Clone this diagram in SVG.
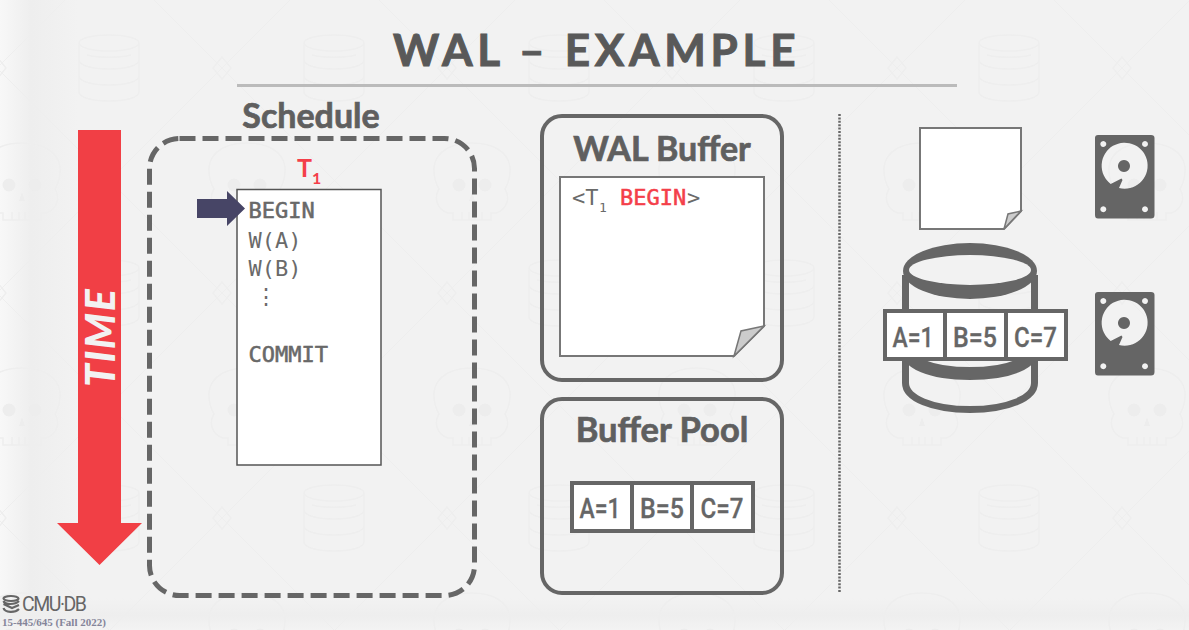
<svg xmlns="http://www.w3.org/2000/svg" width="1189" height="630" viewBox="0 0 1189 630">
<style>
.lato{font-family:"Lato","Liberation Sans",sans-serif;font-weight:700;fill:#5f5f5f;stroke:#5f5f5f;stroke-width:.7}
.mono{font-family:"DejaVu Sans Mono","Liberation Mono",monospace;font-size:22px;fill:#6a6a6a}
.b{stroke:#666;stroke-width:.55}
.red{fill:#f43f4a}
.b.red{stroke:#f43f4a}
.page{fill:#fff;stroke:#777;stroke-width:2}
.fold{fill:#ccc;stroke:#777;stroke-width:1.5}
.cell{fill:#fff;stroke:#666;stroke-width:4}
.cellt{font-family:Roboto,"DejaVu Sans",sans-serif;font-size:27px;font-weight:500;fill:#666;stroke:#666;stroke-width:.3;text-anchor:middle}
.panel{fill:none;stroke:#666;stroke-width:4}
.wm{fill:none;stroke:#eeeeee;stroke-width:1.500}
</style>
<defs>
<linearGradient id="leftg" x1="0" x2="1" y1="0" y2="0"><stop offset="0" stop-color="#f8f8f8"/><stop offset=".4" stop-color="#eeeeee"/><stop offset="1" stop-color="#f2f2f2"/></linearGradient>
<linearGradient id="botg" x1="0" x2="0" y1="0" y2="1"><stop offset="0" stop-color="#f2f2f2"/><stop offset=".55" stop-color="#eeeeee"/><stop offset="1" stop-color="#f3f3f3"/></linearGradient>
<g id="wdb" class="wm"><ellipse cx="0" cy="-25" rx="30" ry="8"/><path d="M-30-25V24C-30 36 30 36 30 24V-25M-30-8C-30 4 30 4 30-8M-30 8C-30 20 30 20 30 8M-22-13C-10-10 10-10 22-13"/></g>
<g id="wsk" class="wm"><path d="M-19 39V32H-24C-36 28-38 16-33 8C-39-2-38-12-38-14C-36-30-20-38 0-38S36-30 38-14C38-12 39-2 33 8C38 16 36 28 24 32H19V39ZM-10 31V39M-3 31V39M3 31V39M10 31V39"/><circle cx="-13" cy="4" r="6.500" fill="#ededed" stroke="none"/><circle cx="13" cy="4" r="6.500" fill="#ededed" stroke="none"/><path d="M0 11L-3 20H3Z" fill="#ededed" stroke="none"/></g>
<g id="dmd" class="wm"><polygon points="-9,0 0,-11 9,0 0,11"/></g>
<pattern id="wmark" width="225" height="225" patternUnits="userSpaceOnUse">
<g class="wm" style="stroke-width:1"><path d="M154 0L225 71M0 71L154 225M0 65L65 0M65 225L225 65"/></g>
<use href="#wdb" x="109" y="68"/>
<use href="#wsk" x="22" y="181"/><use href="#wsk" x="247" y="181"/><use href="#wsk" x="22" y="-44"/><use href="#wsk" x="247" y="-44"/>
<use href="#dmd" x="222" y="68"/><use href="#dmd" x="-3" y="68"/>
</pattern>
<path id="hdd" fill="#656565" fill-rule="evenodd" d="M1098 135H1151Q1154.500 135 1154.500 138V215Q1154.500 218.500 1151 218.500H1098Q1095 218.500 1095 215V138Q1095 135 1098 135ZM1103.300 141a3 3 0 1 0 .01 0ZM1145 141a3 3 0 1 0 .01 0ZM1103.300 206.300a3 3 0 1 0 .01 0ZM1145 206.300a3 3 0 1 0 .01 0ZM1119 188A23 23 0 1 0 1110.700 184L1121.500 178.500L1122.500 180ZM1124 160a6 6 0 1 1 -.01 0Z"/>
</defs>
<rect width="1189" height="630" fill="#f2f2f2"/>
<rect width="78" height="630" fill="url(#leftg)"/>
<rect y="598" width="1189" height="32" fill="url(#botg)"/>
<rect width="1189" height="630" fill="url(#wmark)"/>
<g id="title">
<text x="393" y="66" class="lato" font-size="44" letter-spacing="4.750" style="fill:#595959;stroke:#595959;stroke-width:1">WAL – EXAMPLE</text>
<rect x="237" y="84" width="720" height="3" fill="#bbb"/>
</g>
<g id="time-arrow">
<polygon points="78,130 121,130 121,523 142,523 99.500,565 57,523 78,523" fill="#f13f45"/>
<text transform="translate(115,387) rotate(-90)" font-family="Lato,'Liberation Sans',sans-serif" font-size="41" font-weight="900" font-style="italic" fill="#f2f2f2" letter-spacing="1.500">TIME</text>
</g>
<g id="schedule">
<text x="311" y="128" class="lato" font-size="34" text-anchor="middle">Schedule</text>
<rect x="149.500" y="138.500" width="325" height="457" rx="30" fill="none" stroke="#666" stroke-width="5" stroke-dasharray="16 7"/>
<text x="297" y="177" font-family="Lato,'Liberation Sans',sans-serif" font-weight="700" font-size="25" class="red">T</text>
<text x="312" y="184" font-family="Lato,'Liberation Sans',sans-serif" font-weight="700" font-size="16" class="red">1</text>
<rect x="237" y="189.500" width="144" height="275.500" fill="#fff" stroke="#555" stroke-width="1.500"/>
<text x="248.500" y="218" class="mono b">BEGIN</text>
<text x="248.500" y="248" class="mono">W(A)</text>
<text x="248.500" y="276" class="mono">W(B)</text>
<text x="255" y="304" class="mono">⋮</text>
<text x="248.500" y="362" class="mono b">COMMIT</text>
</g>
<g id="pointer"><polygon points="197,199 227,199 227,191 245,208.500 227,226 227,218 197,218" fill="#474566"/></g>
<g id="wal-buffer">
<rect x="542" y="116" width="240" height="264" rx="20" class="panel"/>
<text x="662" y="161" class="lato" font-size="34" text-anchor="middle">WAL Buffer</text>
<polygon points="560,177 764,177 764,326 734,356 560,356" class="page"/>
<polygon points="764,326 741,331 734,356" class="fold"/>
<text x="572" y="205" class="mono">&lt;T</text>
<text x="599" y="212" class="mono" style="font-size:13px">1</text>
<text x="620" y="205" class="mono b red">BEGIN</text>
<text x="687" y="205" class="mono">&gt;</text>
</g>
<g id="buffer-pool">
<rect x="542" y="399" width="240" height="194" rx="20" class="panel"/>
<text x="662" y="442" class="lato" font-size="34.500" text-anchor="middle">Buffer Pool</text>
<rect x="572" y="483" width="60" height="48" class="cell"/><rect x="632" y="483" width="60" height="48" class="cell"/><rect x="692" y="483" width="61" height="48" class="cell"/>
<text x="600" y="518" class="cellt" textLength="41" lengthAdjust="spacingAndGlyphs">A=1</text><text x="662" y="518" class="cellt" textLength="44" lengthAdjust="spacingAndGlyphs">B=5</text><text x="722" y="518" class="cellt" textLength="43" lengthAdjust="spacingAndGlyphs">C=7</text>
</g>
<g id="disk-log">
<polygon points="920,128 1021,128 1021,211 1004,229 920,229" class="page"/>
<polygon points="1021,211 1008,214 1004,229" class="fold"/>
<use href="#hdd"/>
</g>
<g id="disk-db">
<path d="M905.500 275V383C905.500 398 932 409.500 970 409.500S1034.500 398 1034.500 383V275" fill="none" stroke="#666" stroke-width="7"/>
<path d="M905.500 345C905.500 364 932 373.500 970 373.500S1034.500 364 1034.500 345" fill="none" stroke="#666" stroke-width="13"/>
<ellipse cx="970" cy="271" rx="67" ry="28" fill="#666"/>
<ellipse cx="970" cy="270" rx="61" ry="15" fill="#f2f2f2"/>
<rect x="885" y="311" width="60" height="48" class="cell"/><rect x="945" y="311" width="61" height="48" class="cell"/><rect x="1006" y="311" width="60" height="48" class="cell"/>
<text x="913" y="347" class="cellt" textLength="41" lengthAdjust="spacingAndGlyphs">A=1</text><text x="975" y="347" class="cellt" textLength="44" lengthAdjust="spacingAndGlyphs">B=5</text><text x="1035.500" y="347" class="cellt" textLength="43" lengthAdjust="spacingAndGlyphs">C=7</text>
<use href="#hdd" y="157"/>
</g>
<g id="connectors"><line x1="839.500" y1="114" x2="839.500" y2="592" stroke="#666" stroke-width="2.500" stroke-dasharray="2 1.400"/></g>
<g id="footer">
<g fill="none" stroke="#666" stroke-width="2.200"><ellipse cx="11" cy="598.500" rx="7.500" ry="2.500"/><path d="M3.500 601C5 605 15 605 19 601M3.500 604L12 608 19 605M3.500 608C5 613 15 613 19 609"/></g>
<text x="22" y="611" font-family="Roboto,'Liberation Sans',sans-serif" font-size="19.500" fill="#666" textLength="65">CMU·DB</text>
<text x="2" y="626" font-family="'Liberation Serif',serif" font-weight="700" font-size="11" fill="#85859a">15-445/645 (Fall 2022)</text>
</g>
</svg>
